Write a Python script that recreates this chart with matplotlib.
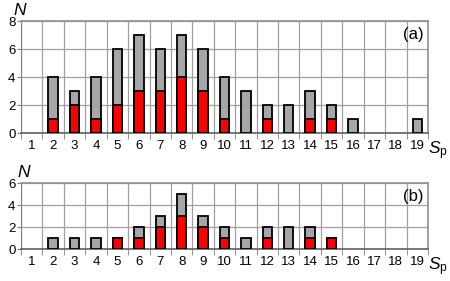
import numpy as np
import matplotlib.pyplot as plt

plt.rcParams['font.family'] = ['Liberation Sans', 'DejaVu Sans']
plt.rcParams['mathtext.fontset'] = 'custom'
plt.rcParams['mathtext.it'] = 'Liberation Sans:italic'
plt.rcParams['mathtext.rm'] = 'Liberation Sans'

sp = list(range(1, 20))
# panel (a)
total_a = [0, 4, 3, 4, 6, 7, 6, 7, 6, 4, 3, 2, 2, 3, 2, 1, 0, 0, 1]
red_a = [0, 1, 2, 1, 2, 3, 3, 4, 3, 1, 0, 1, 0, 1, 1, 0, 0, 0, 0]
# panel (b)
total_b = [0, 1, 1, 1, 1, 2, 3, 5, 3, 2, 1, 2, 2, 2, 1, 0, 0, 0, 0]
red_b = [0, 0, 0, 0, 1, 1, 2, 3, 2, 1, 0, 1, 0, 1, 1, 0, 0, 0, 0]

W, H = 450, 281
fig = plt.figure(figsize=(W / 100, H / 100), dpi=100)


def panel(top, bottom, total, red, ymax, label, nx):
    ax = fig.add_axes([21 / W, (H - bottom) / H, (428 - 21) / W, (bottom - top) / H])
    x = np.array(sp)
    t = np.array(total)
    r = np.array(red)
    m = t > 0
    ax.bar(x[m], t[m], width=0.44, color='#a6a6a6', edgecolor='black', linewidth=1.3, zorder=3)
    m = r > 0
    ax.bar(x[m], r[m], width=0.44, color='#ff0000', edgecolor='black', linewidth=1.3, zorder=4)
    ax.set_xlim(0.5, 19.5)
    ax.set_ylim(0, ymax)
    ax.set_yticks(range(0, ymax + 1, 2))
    ax.set_xticks(sp)
    ax.set_xticks(np.arange(0.5, 20, 1), minor=True)
    ax.tick_params(axis='x', which='major', length=0, labelsize=9.5, pad=5)
    ax.tick_params(axis='x', which='minor', length=4, color='#808080', direction='out')
    ax.tick_params(axis='y', length=3, labelsize=9.5, pad=1, color='#808080')
    ax.grid(True, axis='y', color='#a0a0a0', linewidth=0.9, zorder=0)
    ax.grid(True, axis='x', which='minor', color='#a0a0a0', linewidth=0.9, zorder=0)
    for s in ['top', 'right']:
        ax.spines[s].set_color('#909090')
        ax.spines[s].set_linewidth(1.2)
    ax.spines['left'].set_color('#808080')
    ax.spines['bottom'].set_color('#606060')
    ax.spines['bottom'].set_linewidth(1.2)
    ax.set_axisbelow(True)
    ax.text(0.99, 1 - 6 / (bottom - top), label, transform=ax.transAxes,
            ha='right', va='top', fontsize=12)
    fig.text(nx / W, (H - top + 3) / H, 'N', ha='left', va='bottom',
             fontsize=12.5, style='italic')
    fig.text(428 / W, (H - bottom - 6) / H, '$S_\\mathregular{p}$', ha='left', va='top',
             fontsize=12.5)
    return ax


panel(21, 133, total_a, red_a, 8, '(a)', 13)
panel(183, 249, total_b, red_b, 6, '(b)', 17)

fig.savefig('out.png', dpi=100)
